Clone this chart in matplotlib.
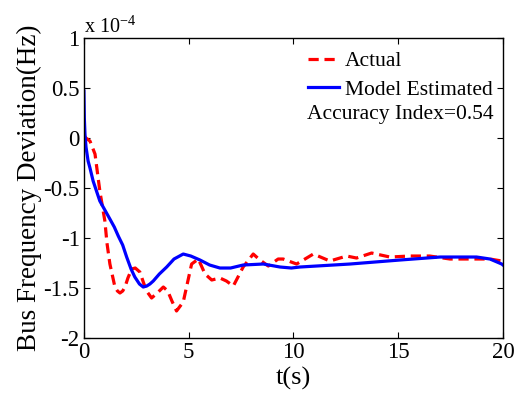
import matplotlib
matplotlib.use("Agg")
import matplotlib.pyplot as plt

plt.rcParams['font.family'] = ['Liberation Serif', 'DejaVu Serif']
plt.rcParams['mathtext.fontset'] = 'custom'
plt.rcParams['mathtext.rm'] = 'Liberation Serif'

t_actual = [0.0, 0.1, 0.29, 0.53, 0.76, 1.0, 1.1, 1.24, 1.48, 1.6, 1.72, 1.85, 1.96, 2.1, 2.28,
            2.45, 2.67, 2.85, 2.99, 3.23, 3.5, 3.79, 4.0, 4.2, 4.42, 4.74, 5.14, 5.46, 5.78,
            6.1, 6.49, 6.8, 7.13, 7.6, 8.08, 8.4, 8.8, 9.27, 9.51, 10.15, 10.95, 11.74,
            12.54, 13.01, 13.73, 14.6, 15.56, 16.5, 17.47, 18.42, 19.38, 19.94, 20.0]
y_actual = [0.02, 0.0, -0.03, -0.16, -0.53, -0.83, -1.05, -1.26, -1.49, -1.53, -1.55, -1.53,
            -1.49, -1.40, -1.31, -1.30, -1.34, -1.45, -1.53, -1.60, -1.55, -1.49, -1.53,
            -1.63, -1.73, -1.64, -1.26, -1.21, -1.36, -1.42, -1.40, -1.43, -1.48, -1.29,
            -1.16, -1.22, -1.28, -1.21, -1.21, -1.26, -1.16, -1.23, -1.18, -1.20, -1.15,
            -1.19, -1.18, -1.18, -1.21, -1.21, -1.21, -1.23, -1.23]

t_model = [0.0, 0.02, 0.05, 0.1, 0.2, 0.29, 0.44, 0.6, 0.76, 1.0, 1.24, 1.45, 1.64, 1.85,
           2.04, 2.25, 2.43, 2.65, 2.83, 3.0, 3.15, 3.31, 3.6, 3.95, 4.3, 4.74, 5.1, 5.54,
           6.0, 6.49, 7.0, 7.6, 8.56, 9.36, 9.9, 10.31, 12.7, 15.08, 17.0, 18.74, 19.38,
           19.94, 20.0]
y_model = [0.47, 0.2, 0.04, -0.09, -0.23, -0.30, -0.43, -0.53, -0.63, -0.72, -0.81, -0.89,
           -0.98, -1.07, -1.19, -1.31, -1.39, -1.46, -1.49, -1.48, -1.46, -1.43, -1.36,
           -1.29, -1.21, -1.16, -1.18, -1.22, -1.27, -1.30, -1.30, -1.27, -1.26, -1.29,
           -1.30, -1.29, -1.26, -1.22, -1.19, -1.19, -1.21, -1.26, -1.27]

x_ticks = [0, 5, 10, 15, 20]
y_ticks = [-2, -1.5, -1, -0.5, 0, 0.5, 1]
y_ticklabels = ['-2', '-1.5', '-1', '-0.5', '0', '0.5', '1']

fig = plt.figure(figsize=(5.18, 3.93), dpi=100)
ax = fig.add_axes([0.162, 0.140, 0.809, 0.763])

ax.plot(t_actual, y_actual, color='#ff0000', lw=2.3, ls=(0, (3.2, 1.8)), label='Actual')
ax.plot(t_model, y_model, color='#0000ff', lw=2.3, label='Model Estimated')

ax.set_xlim(0, 20)
ax.set_ylim(-2, 1)
ax.set_xticks(x_ticks)
ax.set_xticklabels([str(v) for v in x_ticks])
ax.set_yticks(y_ticks)
ax.set_yticklabels(y_ticklabels)
ax.tick_params(direction='in', top=True, right=True, labelsize=16.5, length=4, width=0.8)
ax.tick_params(axis='y', pad=3)
ax.tick_params(axis='x', pad=3)
for s in ax.spines.values():
    s.set_linewidth(1.0)

ax.set_xlabel('t(s)', fontsize=19, labelpad=3)
ax.set_ylabel('Bus Frequency Deviation(Hz)', fontsize=19.5, labelpad=1)

leg = ax.legend(loc='upper right', frameon=False, fontsize=15.5, handlelength=1.45,
                handletextpad=0.25, borderaxespad=0.0, labelspacing=0.4,
                bbox_to_anchor=(0.995, 0.985))
ax.text(0.978, 0.746, 'Accuracy Index=0.54', transform=ax.transAxes, ha='right',
        va='center', fontsize=15.5)
ax.text(0.0, 1.017, 'x 10$^{-4}$', transform=ax.transAxes, ha='left', va='baseline',
        fontsize=14.5)

fig.savefig('out.png', dpi=100)
